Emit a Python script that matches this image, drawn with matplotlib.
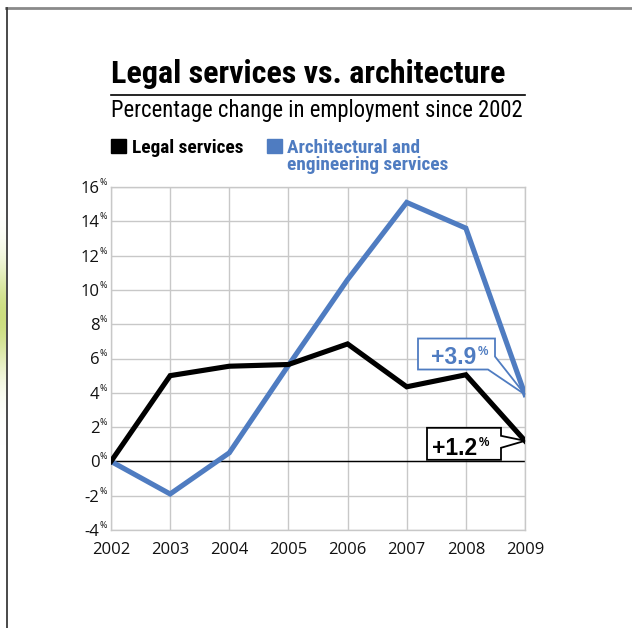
import numpy as np
import matplotlib
matplotlib.use("Agg")
import matplotlib.pyplot as plt
from matplotlib.patches import Polygon, Rectangle
from matplotlib.lines import Line2D
from matplotlib import font_manager
import matplotlib.transforms as mtransforms

# ---- data ----
years = [2002, 2003, 2004, 2005, 2006, 2007, 2008, 2009]
legal = [0.0, 5.0, 5.55, 5.65, 6.85, 4.35, 5.05, 1.2]
arch = [0.0, -1.9, 0.5, 5.6, 10.6, 15.1, 13.6, 3.9]
yticks = [-4, -2, 0, 2, 4, 6, 8, 10, 12, 14, 16]
title = "Legal services vs. architecture"
subtitle = "Percentage change in employment since 2002"
legal_label = "Legal services"
arch_label = "Architectural and\nengineering services"

BLUE = "#4f7cc1"
GRID = "#c8c8c8"
W, H = 632, 628


# ---- pick a condensed sans for the headline type ----
def condensed_font():
    entries = font_manager.fontManager.ttflist
    names = {f.name for f in entries}
    for n in ["Liberation Sans Narrow", "Roboto Condensed", "Open Sans Condensed",
              "DejaVu Sans Condensed", "Noto Sans Condensed", "Arial Narrow"]:
        if n in names:
            return {"family": n}
    for f in entries:
        if f.stretch in ("condensed", "semi-condensed", "extra-condensed") and "Sans" in f.name \
                and "CJK" not in f.name and "Mono" not in f.name:
            return {"family": f.name, "stretch": f.stretch}
    for f in entries:
        if ("Narrow" in f.name or "Condensed" in f.name) and "Mono" not in f.name:
            return {"family": f.name}
    return {"family": "Roboto"}


HEAD = condensed_font()

fig = plt.figure(figsize=(W / 100, H / 100), dpi=100)
fig.patch.set_facecolor("white")


def fx(px):
    return px / W


def fy(py):
    return 1 - py / H


renderer = fig.canvas.get_renderer()


def fit_width(t, target):
    # scale font size so the text spans the target pixel width
    for _ in range(3):
        w = t.get_window_extent(renderer).width
        t.set_fontsize(t.get_fontsize() * target / w)


def head_text(x, y, s, size, bold=False, color="black"):
    kw = dict(fontfamily=HEAD["family"], fontsize=size, color=color,
              ha="left", va="baseline", fontweight="bold" if bold else "normal")
    if "stretch" in HEAD:
        kw["fontstretch"] = HEAD["stretch"]
    return fig.text(fx(x), fy(y), s, **kw)


# ---- plot area ----
ax = fig.add_axes([fx(111), fy(530), fx(525) - fx(111), fy(187) - fy(530)])
ax.set_xlim(years[0], years[-1])
ax.set_ylim(yticks[0], yticks[-1])
ax.set_xticks(years)
ax.set_yticks(yticks)
ax.grid(True, color=GRID, linewidth=1.0)
ax.set_axisbelow(True)
for s in ax.spines.values():
    s.set_color(GRID)
    s.set_linewidth(1.0)
ax.tick_params(length=0)
ax.set_yticklabels([])
ax.set_xticklabels([str(y) for y in years], fontfamily="Open Sans", fontsize=12,
                   color="#111111")
ax.tick_params(axis="x", pad=9)
ax.axhline(0, color="black", linewidth=1.0, zorder=2)

ax.plot(years, arch, color=BLUE, linewidth=3.7, solid_joinstyle="miter", zorder=3)
ax.plot(years, legal, color="black", linewidth=3.7, solid_joinstyle="miter", zorder=4)

# y tick labels with superscript percent signs
ytrans = ax.get_yaxis_transform()
num_tr = mtransforms.offset_copy(ytrans, fig=fig, x=-11.5, y=-2, units="dots")
pct_tr = mtransforms.offset_copy(ytrans, fig=fig, x=-11, y=0, units="dots")
for v in yticks:
    ax.text(0, v, f"{v}", transform=num_tr, ha="right", va="center",
            fontfamily="Open Sans", fontsize=12, color="#111111", clip_on=False)
    ax.text(0, v, "%", transform=pct_tr, ha="left", va="bottom",
            fontfamily="Open Sans", fontsize=6.5, color="#111111", clip_on=False)

# ---- titles ----
t = head_text(111, 83, title, 24, bold=True)
fit_width(t, 395)
fig.add_artist(Line2D([fx(111), fx(525)], [fy(95), fy(95)], color="black", linewidth=1.2))
st = head_text(111, 117, subtitle, 16)
fit_width(st, 412)

# ---- legend ----
fig.add_artist(Rectangle((fx(111), fy(153)), fx(126) - fx(111), fy(139) - fy(153),
                         transform=fig.transFigure, color="black"))
lt = head_text(132, 153, legal_label, 13, bold=True)
fit_width(lt, 111)
fig.add_artist(Rectangle((fx(267), fy(153)), fx(282) - fx(267), fy(139) - fy(153),
                         transform=fig.transFigure, color=BLUE))
arch_lines = arch_label.split("\n")
head_text(287, 153, arch_lines[0], lt.get_fontsize(), bold=True, color=BLUE)
head_text(287, 170, arch_lines[1], lt.get_fontsize(), bold=True, color=BLUE)


# ---- callouts at the last point ----
def callout(value, color, pts, num_x, base_dy):
    # pts: outline in pixel offsets (right, down) from the data point
    tip = ax.transData.transform((years[-1], value))
    disp = [(tip[0] + dx, tip[1] - dy) for dx, dy in pts]
    fig.add_artist(Polygon(disp, closed=True, transform=None, facecolor="white",
                           edgecolor=color, linewidth=1.3, joinstyle="miter", zorder=5))
    tx = tip[0] + num_x
    ty = tip[1] - base_dy
    size = 16.5
    txt = fig.text(tx / W, ty / H, f"+{value:.1f}", fontfamily="Liberation Sans",
                   fontweight="bold", fontsize=size, color=color,
                   ha="left", va="baseline", zorder=6)
    w = txt.get_window_extent(renderer).width
    cap = 0.716 * size * 100 / 72
    fig.text((tx + w + 1.5) / W, (ty + cap + 1) / H, "%", fontfamily="Liberation Sans",
             fontweight="bold", fontsize=8.5, color=color, ha="left", va="top", zorder=6)


# +3.9 : box x 418..495, y 338..369 ; tip at (525, 394)
callout(arch[-1], BLUE,
        [(-107, -56), (-30, -56), (-30, -38), (0, 0), (-37, -25), (-107, -25)],
        num_x=-94, base_dy=-31)
# +1.2 : box x 427..501, y 429..461 ; tip at (525, 442)
callout(legal[-1], "black",
        [(-98, -13), (-24, -13), (-24, -5), (0, 0), (-24, 7), (-24, 19), (-98, 19)],
        num_x=-93, base_dy=14)

# ---- page frame and side accent ----
fig.add_artist(Line2D([fx(6), 1], [fy(8), fy(8)], color="#8a8a8a", linewidth=2.0))
fig.add_artist(Line2D([fx(6.5), fx(6.5)], [0, fy(8)], color="#3a3a3a", linewidth=1.3))
side = fig.add_axes([0, fy(445), fx(5.5), fy(190) - fy(445)])
prof = np.exp(-((np.linspace(-1, 1, 200)) ** 2) / 0.18)
grad = np.ones((200, 1, 3))
green = np.array([0.80, 0.87, 0.50])
grad[:, 0, :] = 1 - prof[:, None] * (1 - green)
side.imshow(grad, aspect="auto", interpolation="bilinear")
side.set_axis_off()

fig.savefig("out.png", dpi=100, facecolor="white")
